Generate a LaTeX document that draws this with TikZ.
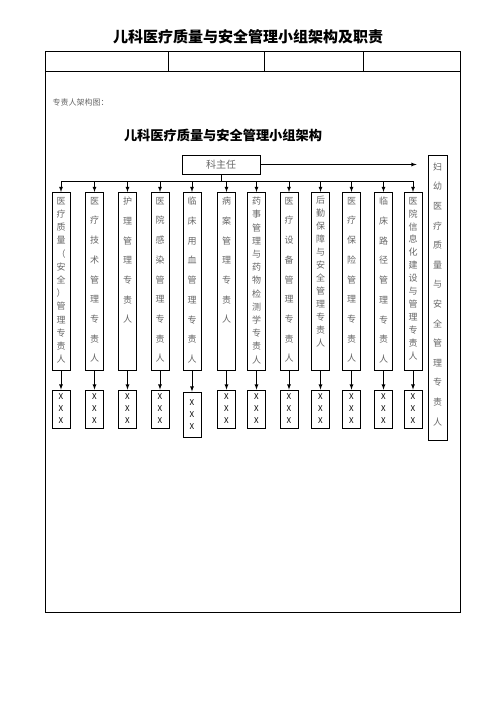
\documentclass[tikz,border=0pt]{standalone}
\usepackage{fontspec}
\setmainfont{Noto Sans CJK SC}
\usepackage{tikz}
\usetikzlibrary{arrows,calc,positioning}
\tikzset{%
	post/.style     = {draw, rectangle, line width=0.8pt, minimum width=18pt, minimum height=178pt, anchor=north, inner sep=0pt},
	dense/.style    = {anchor=north, align=center, inner sep=0pt, text=black!60, font=\fontsize{9}{13.2}\selectfont},
	loose/.style    = {anchor=north, align=center, inner sep=0pt, text=black!60, font=\fontsize{9}{19.7}\selectfont},
	staff/.style    = {draw, rectangle, line width=0.8pt, minimum width=18pt, minimum height=38pt, inner sep=0pt, align=center, font=\fontsize{8}{12}\selectfont},
	chief/.style    = {draw, rectangle, line width=0.8pt, minimum width=78pt, minimum height=19pt, text=black!60, font=\fontsize{10}{12}\selectfont},
	arrow/.style    = {line width=0.8pt,-latex},
}
\begin{document}
\begin{tikzpicture}[x=1pt,y=-1pt]
		\useasboundingbox (0,0) rectangle (496,702);
		% page frame and header row
		\draw[line width=1pt] (45,51) rectangle (460,612);
		\draw[line width=1pt] (45,71) -- (460,71);
		\draw[line width=1pt] (168,51) -- (168,71) (264,51) -- (264,71) (363,51) -- (363,71);
		\node[font=\bfseries\fontsize{15}{18}\selectfont] (title) at (248,37) {儿科医疗质量与安全管理小组架构及职责};
		\node[anchor=west, text=black!60, font=\fontsize{8}{10}\selectfont] (note) at (49,102) {专责人架构图：};
		\node[font=\bfseries\fontsize{13.2}{15}\selectfont] (head) at (223,135) {儿科医疗质量与安全管理小组架构};
		% top level
		\node[chief] (kzr) at (221,164.5) {科主任};
		\node[draw, rectangle, line width=0.8pt, minimum width=19pt, minimum height=285pt, anchor=north, inner sep=0pt] (fy) at (437.5,155) {};
		\node[loose, text=black!60, font=\fontsize{9}{19.6}\selectfont, below=7.5pt of fy.north] (fyt) {妇\\幼\\医\\疗\\质\\量\\与\\安\\全\\管\\理\\专\\责\\人};
		\draw[arrow, shorten >=11pt] (kzr.east) -- (kzr.east -| fy.west);
		% posts
		\node[post] (c1) at (61,192) {};
		\node[post] (c2) at (94.5,192) {};
		\node[post] (c3) at (127.5,192) {};
		\node[post] (c4) at (160,192) {};
		\node[post] (c5) at (192,192) {};
		\node[post] (c6) at (226.5,192) {};
		\node[post] (c7) at (256.5,192) {};
		\node[post] (c8) at (289,192) {};
		\node[post] (c9) at (320.5,192) {};
		\node[post] (c10) at (351.5,192) {};
		\node[post] (c11) at (383.5,192) {};
		\node[post] (c12) at (413,192) {};
		\node[dense, below=5pt of c1.north] (t1) {医\\疗\\质\\量\\（\\安\\全\\）\\管\\理\\专\\责\\人};
		\node[loose, below=5pt of c2.north] (t2) {医\\疗\\技\\术\\管\\理\\专\\责\\人};
		\node[loose, below=5pt of c3.north] (t3) {护\\理\\管\\理\\专\\责\\人};
		\node[loose, below=5pt of c4.north] (t4) {医\\院\\感\\染\\管\\理\\专\\责\\人};
		\node[loose, below=5pt of c5.north] (t5) {临\\床\\用\\血\\管\\理\\专\\责\\人};
		\node[loose, below=5pt of c6.north] (t6) {病\\案\\管\\理\\专\\责\\人};
		\node[dense, below=5pt of c7.north] (t7) {药\\事\\管\\理\\与\\药\\物\\检\\测\\学\\专\\责\\人};
		\node[loose, below=5pt of c8.north] (t8) {医\\疗\\设\\备\\管\\理\\专\\责\\人};
		\node[dense, font=\fontsize{9}{13}\selectfont, below=3.5pt of c9.north] (t9) {后\\勤\\保\\障\\与\\安\\全\\管\\理\\专\\责\\人};
		\node[loose, below=5pt of c10.north] (t10) {医\\疗\\保\\险\\管\\理\\专\\责\\人};
		\node[loose, below=5pt of c11.north] (t11) {临\\床\\路\\径\\管\\理\\专\\责\\人};
		\node[dense, font=\fontsize{9}{12.9}\selectfont, below=5pt of c12.north] (t12) {医\\院\\信\\息\\化\\建\\设\\与\\管\\理\\专\\责\\人};
		% bus from the chief to every post
		\coordinate (bus) at (221,181);
		\draw[line width=0.8pt] (kzr.south) -- (bus);
		\draw[line width=0.8pt] (c1.north |- bus) -- (c12.north |- bus);
		\foreach \i in {1,...,12}
			\draw[arrow] (c\i.north |- bus) -- (c\i.north);
		% staff boxes
		\foreach \i/\x in {1/61,2/94.5,3/127.5,4/160,6/226.5,7/256.5,8/289,9/320.5,10/351.5,11/383.5,12/413}
			\node[staff] (x\i) at (\x,409) {X\\X\\X};
		\node[staff, minimum height=45pt] (x5) at (192,414.5) {X\\X\\X};
		\foreach \i in {1,...,12}
			\draw[arrow] (c\i.south) -- (x\i.north);
	\end{tikzpicture}
\end{document}
